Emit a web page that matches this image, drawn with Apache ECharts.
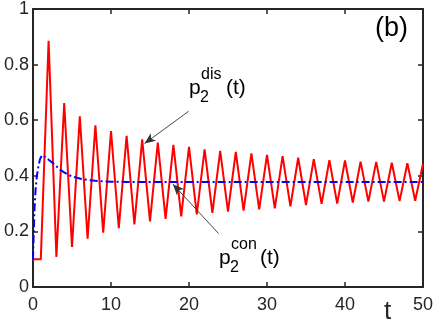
<!DOCTYPE html>
<html>
<head>
<meta charset="utf-8">
<script src="https://cdn.jsdelivr.net/npm/echarts@6/dist/echarts.min.js"></script>
<style>html,body{margin:0;padding:0;background:#fff}#c{width:436px;height:320px}</style>
</head>
<body>
<div id="c"></div>
<script>
// discrete-time probability p2^dis(t), sampled at integer t
var disT = [0,1,2,3,4,5,6,7,8,9,10,11,12,13,14,15,16,17,18,19,20,21,22,23,24,25,26,27,28,29,30,31,32,33,34,35,36,37,38,39,40,41,42,43,44,45,46,47,48,49,50];
var disV = [0.100,0.100,0.886,0.108,0.662,0.144,0.614,0.174,0.582,0.195,0.561,0.212,0.544,0.225,0.531,0.236,0.519,0.245,0.511,0.254,0.504,0.261,0.495,0.267,0.490,0.271,0.486,0.275,0.481,0.279,0.475,0.283,0.471,0.290,0.465,0.295,0.460,0.299,0.456,0.300,0.455,0.304,0.451,0.307,0.450,0.307,0.447,0.309,0.445,0.310,0.443];
// continuous-time probability p2^con(t)
var conT = [0,0.1,0.2,0.35,0.5,0.7,0.9,1.15,1.4,1.7,2,2.5,3,3.5,4,4.5,5,6,7,8,9,10,12,15,20,25,30,35,40,45,50];
var conV = [0.100,0.200,0.285,0.360,0.400,0.435,0.460,0.474,0.473,0.466,0.458,0.447,0.434,0.421,0.412,0.404,0.398,0.390,0.385,0.382,0.380,0.379,0.378,0.378,0.378,0.378,0.378,0.378,0.378,0.378,0.378];
var xTicks = [0,10,20,30,40,50];
var yTicks = [0,0.2,0.4,0.6,0.8,1];
// annotation arrows: [tail, head] in data coords
var disArrow = [[19.95,0.632],[14.3,0.516]];
var conArrow = [[23.8,0.192],[17.94,0.370]];

function zip(a,b){var r=[];for(var i=0;i<a.length;i++)r.push([a[i],b[i]]);return r;}
var ax = '#262626';
var F = '"Liberation Sans", Arial, Helvetica, sans-serif';
function arrowData(a){return [[{coord:a[0],symbol:'none'},{coord:a[1],symbol:'arrow'}]];}

var chart = echarts.init(document.getElementById('c'));
var baseX = {type:'value',min:xTicks[0],max:xTicks[xTicks.length-1],interval:10,
  axisLine:{show:true,onZero:false,lineStyle:{color:ax,width:2}},
  axisTick:{show:true,inside:true,length:5,lineStyle:{color:ax,width:1.5}},
  splitLine:{show:false}};
var baseY = {type:'value',min:yTicks[0],max:yTicks[yTicks.length-1],interval:0.2,
  axisLine:{show:true,onZero:false,lineStyle:{color:ax,width:2}},
  axisTick:{show:true,inside:true,length:5,lineStyle:{color:ax,width:1.5}},
  splitLine:{show:false}};
chart.setOption({
  animation:false,
  grid:{left:33,right:12,top:7,bottom:33,containLabel:false},
  xAxis:[
    Object.assign({},baseX,{position:'bottom',axisLabel:{color:ax,fontSize:18,fontFamily:F,margin:9}}),
    Object.assign({},baseX,{position:'top',axisLabel:{show:false}})
  ],
  yAxis:[
    Object.assign({},baseY,{position:'left',axisLabel:{color:ax,fontSize:18,fontFamily:F,margin:4}}),
    Object.assign({},baseY,{position:'right',axisLabel:{show:false}})
  ],
  series:[
    {type:'line',data:zip(disT,disV),symbol:'none',lineStyle:{color:'#ff0000',width:2},
     markLine:{silent:true,symbol:['none','arrow'],symbolSize:[7,11],label:{show:false},
       lineStyle:{color:'#333',width:0.9,type:'solid'},data:arrowData(disArrow)}},
    {type:'line',data:zip(conT,conV),symbol:'none',smooth:false,lineStyle:{color:'#0000ff',width:2,type:[8,3,2,3]},
     markLine:{silent:true,symbol:['none','arrow'],symbolSize:[7,11],label:{show:false},
       lineStyle:{color:'#333',width:0.9,type:'solid'},data:arrowData(conArrow)}}
  ],
  graphic:[
    {type:'text',left:189,top:78,style:{text:'p',font:'21px '+F,fill:'#000'}},
    {type:'text',left:200,top:90,style:{text:'2',font:'16px '+F,fill:'#000'}},
    {type:'text',left:201,top:67,style:{text:'dis',font:'16px '+F,fill:'#000'}},
    {type:'text',left:226,top:78,style:{text:'(t)',font:'21px '+F,fill:'#000'}},
    {type:'text',left:219,top:248,style:{text:'p',font:'21px '+F,fill:'#000'}},
    {type:'text',left:230,top:260,style:{text:'2',font:'16px '+F,fill:'#000'}},
    {type:'text',left:231,top:237,style:{text:'con',font:'16px '+F,fill:'#000'}},
    {type:'text',left:260,top:248,style:{text:'(t)',font:'21px '+F,fill:'#000'}},
    {type:'text',left:375,top:15,style:{text:'(b)',font:'27px '+F,fill:'#000'}},
    {type:'text',left:384,top:299,style:{text:'t',font:'26px '+F,fill:'#262626'}}
  ]
});
</script>
</body>
</html>
